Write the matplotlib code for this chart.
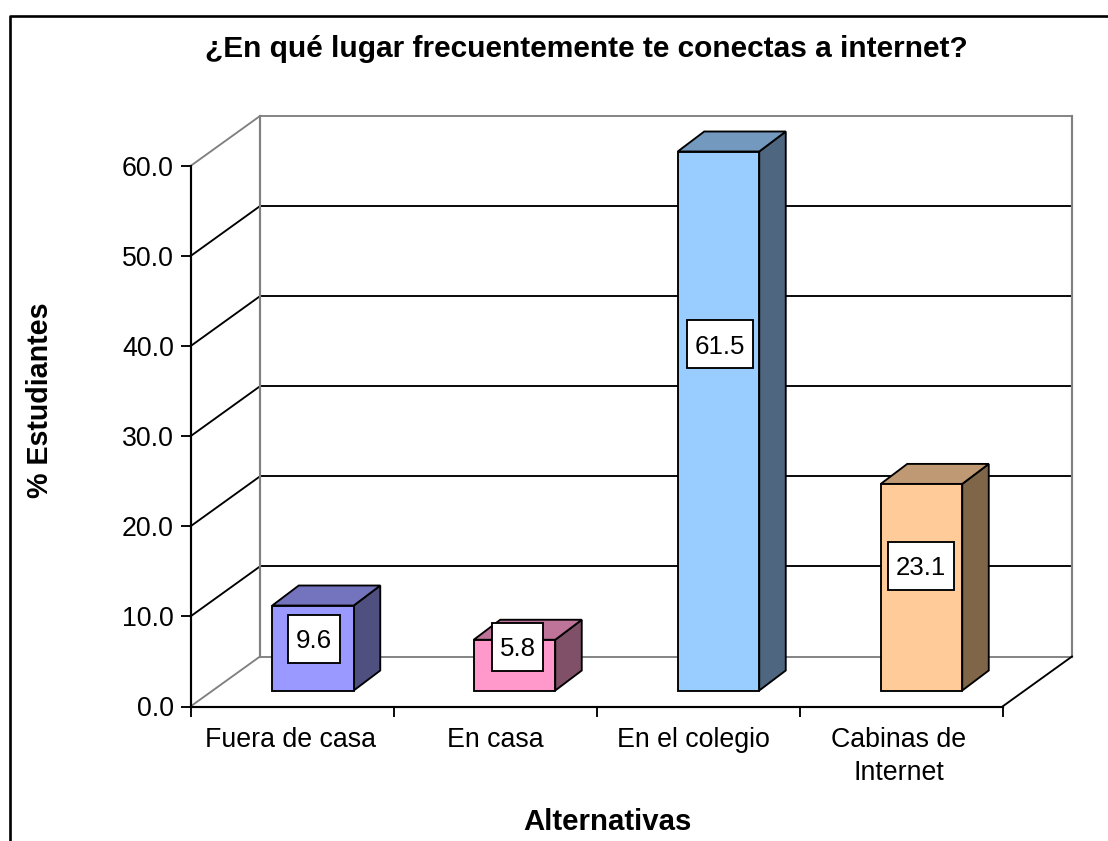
import matplotlib
matplotlib.use("Agg")
import matplotlib.pyplot as plt
from matplotlib.patches import Polygon, Rectangle
from matplotlib.lines import Line2D

# ---- data ----
categories = ["Fuera de casa", "En casa", "En el colegio", "Cabinas de\nInternet"]
values = [9.6, 5.8, 61.5, 23.1]
y_ticks = [0, 10, 20, 30, 40, 50, 60]
front_colors = ["#9999FF", "#FF99CC", "#99CCFF", "#FFCC99"]
top_colors = ["#7474BE", "#BE7498", "#7499BE", "#BE9974"]
side_colors = ["#4F4F80", "#804F68", "#4F6680", "#806649"]
title = "¿En qué lugar frecuentemente te conectas a internet?"
x_title = "Alternativas"
y_title = "% Estudiantes"
# height of each value label's centre, in axis units
label_heights = [7.5, 6.65, 40.2, 15.6]

# ---- layout (pixels of the 1108x841 figure) ----
W, H = 1108, 841
L, R, T, B = 190.5, 1002.5, 166, 706.5
WALL_DX, WALL_DY = 69.5, 50      # depth of the chart box
BAR_DX, BAR_DY = 26.5, 20        # depth of a bar
BASE_DX, BASE_DY = 21.5, 16      # front of the bars behind the axis line
BAR_W = 81.5
TOP_INSET = 1.5                  # px
bar_nudge = [-0.5, -2, -1, -1]   # px
label_nudge = [1, 3, 1.5, -0.5]  # px
cat_nudge = [-1.5, 0, -5, -2]    # px
LABEL_H = 48
LABEL_PAD = 7.5
GRAY = "#808080"
LW = 1.35

plt.rcParams["font.family"] = ["Liberation Sans", "DejaVu Sans"]
fig = plt.figure(figsize=(W / 100, H / 100), dpi=100)
ax = fig.add_axes([L / W, 1 - B / H, (R - L) / W, (B - T) / H])
ax.set_xlim(0, len(categories))
ax.set_ylim(0, y_ticks[-1])
ax.patch.set_visible(False)
for s in ("top", "right"):
    ax.spines[s].set_visible(False)
for s in ("left", "bottom"):
    ax.spines[s].set_linewidth(LW + 0.2)

ux = (R - L) / len(categories)          # pixels per category
uy = (B - T) / y_ticks[-1]              # pixels per axis unit
wdx, wdy = WALL_DX / ux, WALL_DY / uy
bdx, bdy = BAR_DX / ux, BAR_DY / uy
sdx, sdy = BASE_DX / ux, BASE_DY / uy
bw = BAR_W / ux
xmax = len(categories)

def line(xs, ys, color, lw=LW, z=1):
    ax.add_line(Line2D(xs, ys, color=color, lw=lw, zorder=z, clip_on=False,
                       solid_capstyle="projecting"))

# grid on wall and side
for v in y_ticks:
    c = GRAY if v in (y_ticks[0], y_ticks[-1]) else "black"
    line([0, wdx], [v, v + wdy], c)
    line([wdx, xmax + wdx], [v + wdy, v + wdy], c)
line([wdx, wdx], [wdy, y_ticks[-1] + wdy], GRAY, LW + 0.2)
line([xmax + wdx, xmax + wdx], [wdy, y_ticks[-1] + wdy], GRAY, LW + 0.2)
line([xmax, xmax + wdx], [0, wdy], "black")

# bars: cut off at the top of the axis
fig.canvas.draw()
renderer = fig.canvas.get_renderer()
for i, v in enumerate(values):
    h = min(v, y_ticks[-1])
    x0 = i + 0.5 + sdx - bw / 2 + bar_nudge[i] / ux
    x1 = x0 + bw
    y0 = sdy
    y1 = y0 + h - TOP_INSET / uy
    front = [(x0, y0), (x1, y0), (x1, y1), (x0, y1)]
    top = [(x0, y1), (x1, y1), (x1 + bdx, y1 + bdy), (x0 + bdx, y1 + bdy)]
    side = [(x1, y0), (x1 + bdx, y0 + bdy), (x1 + bdx, y1 + bdy), (x1, y1)]
    for pts, col in ((side, side_colors[i]), (top, top_colors[i]), (front, front_colors[i])):
        ax.add_patch(Polygon(pts, closed=True, facecolor=col, edgecolor="black",
                             lw=LW, zorder=3, clip_on=False, joinstyle="miter"))
    xc = x0 + bw / 2 + label_nudge[i] / ux
    t = ax.text(xc, label_heights[i], f"{v:.1f}", ha="center", va="center_baseline",
                fontsize=18.6, color="black", zorder=6, clip_on=False)
    tw = t.get_window_extent(renderer).width
    bw_px = tw + 2 * LABEL_PAD
    ax.add_patch(Rectangle((xc - bw_px / 2 / ux, label_heights[i] - LABEL_H / 2 / uy),
                           bw_px / ux, LABEL_H / uy, facecolor="white", edgecolor="black",
                           lw=LW, zorder=5, clip_on=False))

# axes ticks
ax.set_yticks(y_ticks)
ax.set_yticklabels([f"{v:.1f}" for v in y_ticks], fontsize=19.3)
ax.set_xticks(range(len(categories) + 1))
ax.set_xticklabels([])
ax.tick_params(axis="both", which="major", length=7.5, width=LW, pad=4.5)
for i, c in enumerate(categories):
    ax.annotate(c, xy=(i + 0.5, 0), xycoords=("data", "axes fraction"),
                xytext=(cat_nudge[i] * 0.72, -14.8), textcoords="offset points",
                ha="center", va="top", fontsize=19.3, linespacing=1.33,
                annotation_clip=False)

# titles and frame, in figure pixels
def px(x, y):
    return x / W, 1 - y / H

fig.text(*px(586, 49), title, ha="center", va="center", fontsize=21.5, fontweight="bold")
fig.text(*px(607, 822), x_title, ha="center", va="center", fontsize=21.2, fontweight="bold")
fig.text(*px(40.5, 400.5), y_title, ha="center", va="center", rotation=90, fontsize=20.6, fontweight="bold")
fig.add_artist(Line2D([9.5 / W, 9.5 / W, 1.01], [0, 1 - 15.5 / H, 1 - 15.5 / H],
                      color="black", lw=1.9, transform=fig.transFigure))
fig.savefig("out.png", dpi=100)
